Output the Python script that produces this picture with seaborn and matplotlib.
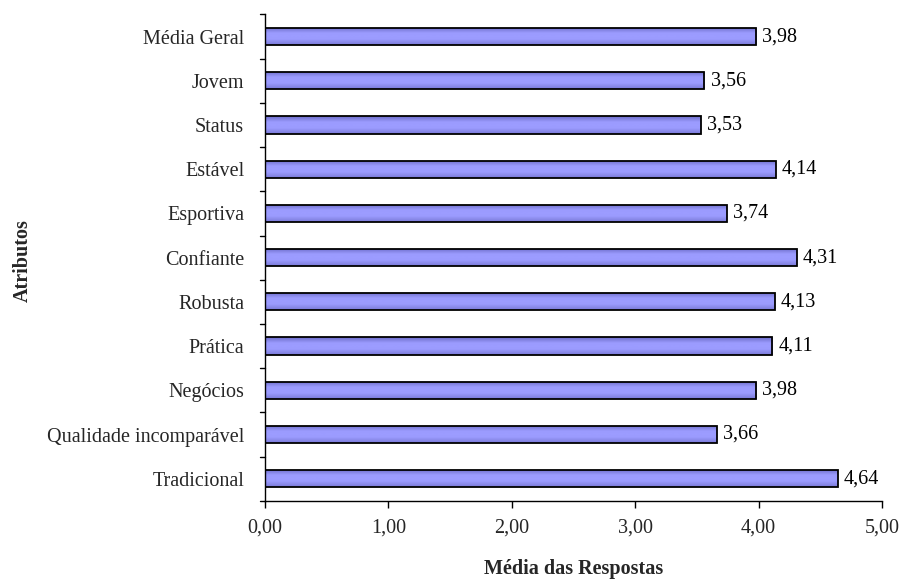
import numpy as np
import pandas as pd
import matplotlib
matplotlib.use("Agg")
import matplotlib.pyplot as plt
import seaborn as sns
from matplotlib.colors import LinearSegmentedColormap

atributos = ["Média Geral", "Jovem", "Status", "Estável", "Esportiva", "Confiante",
             "Robusta", "Prática", "Negócios", "Qualidade incomparável", "Tradicional"]
medias = [3.98, 3.56, 3.53, 4.14, 3.74, 4.31, 4.13, 4.11, 3.98, 3.66, 4.64]
x_ticks = [0, 1, 2, 3, 4, 5]

df = pd.DataFrame({"Atributo": atributos, "Media": medias})

sns.set_theme(style="white")
plt.rcParams["font.family"] = ["Liberation Serif", "DejaVu Serif"]

FS = 14.5

fig = plt.figure(figsize=(9.04, 5.79), dpi=100)
ax = fig.add_axes([0.2932, 0.135, 0.6825, 0.84])

sns.barplot(data=df, x="Media", y="Atributo", orient="h", color="#9999FF",
            width=0.39, edgecolor="black", linewidth=1.3, saturation=1, ax=ax)

# soft vertical shading inside each bar
cmap = LinearSegmentedColormap.from_list("shade", ["#6C6CC8", "#9C9CFF", "#9C9CFF", "#7A7AD8"])
grad = np.linspace(0, 1, 64).reshape(-1, 1)
for p in ax.patches:
    x0, y0 = p.get_x(), p.get_y()
    w, h = p.get_width(), p.get_height()
    im = ax.imshow(grad, cmap=cmap, aspect="auto", extent=[x0, x0 + w, y0 + h, y0],
                   zorder=p.get_zorder() - 0.1, interpolation="bicubic")
    im.set_clip_path(p)
    p.set_facecolor("none")
    ax.text(x0 + w + 0.05, y0 + h / 2, f"{w:.2f}".replace(".", ","),
            va="center", ha="left", fontsize=FS, color="black")

ax.set_xlim(0, 5)
ax.set_ylim(len(atributos) - 0.5, -0.5)
ax.set_xticks(x_ticks)
ax.set_xticklabels([f"{v:.2f}".replace(".", ",") for v in x_ticks], fontsize=FS)
ax.set_yticks(range(len(atributos)))
ax.set_yticklabels(atributos, fontsize=FS)
ax.tick_params(axis="y", length=0, pad=15)
ax.tick_params(axis="x", length=5, width=1, color="black", direction="out", bottom=True, pad=8)

# small ticks between categories on the value axis
for b in np.arange(-0.5, len(atributos), 1.0):
    ax.plot([-0.04, 0], [b, b], color="black", lw=1, clip_on=False, transform=ax.transData)

for s in ["top", "right"]:
    ax.spines[s].set_visible(False)
for s in ["left", "bottom"]:
    ax.spines[s].set_color("black")
    ax.spines[s].set_linewidth(1)

ax.set_xlabel("Média das Respostas", fontsize=FS, fontweight="bold", labelpad=15)
ax.set_ylabel("")
fig.text(0.025, 0.55, "Atributos", rotation=90, fontsize=FS, fontweight="bold",
         ha="center", va="center")

fig.savefig("out.png", dpi=100, facecolor="white")
